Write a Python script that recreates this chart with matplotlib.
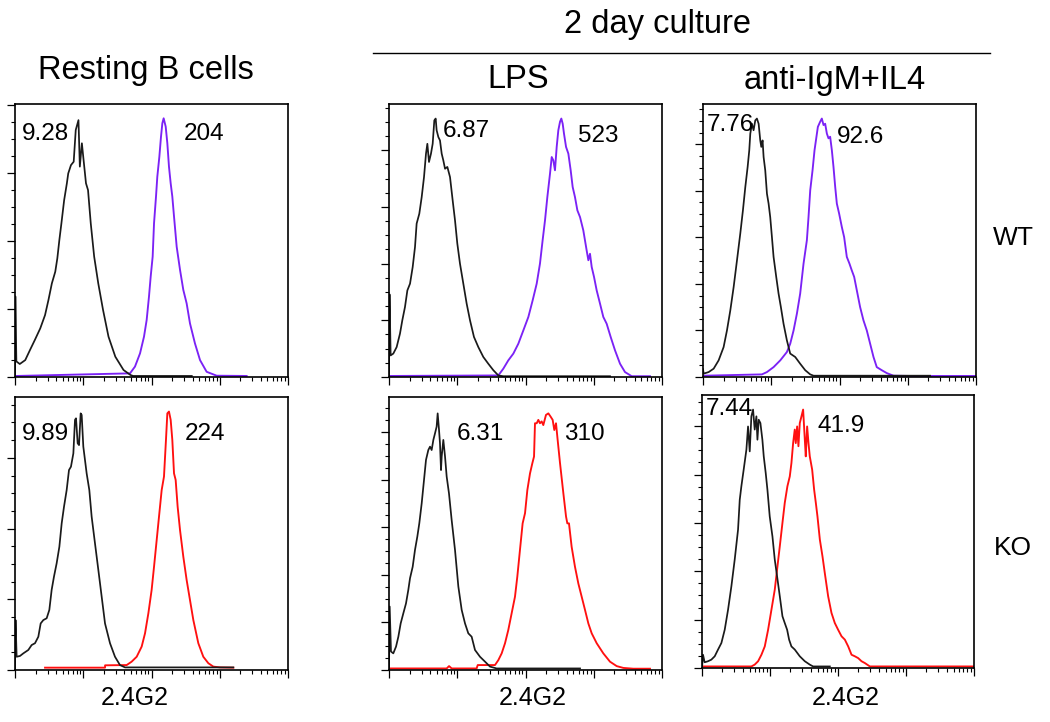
import matplotlib
matplotlib.use('Agg')
import matplotlib.pyplot as plt
from matplotlib.ticker import MultipleLocator, LogLocator, NullFormatter
import numpy as np

plt.rcParams['font.family'] = ['Liberation Sans', 'DejaVu Sans']

# x = position in decades (log10 of 2.4G2 intensity), y = % of max
# --- Resting B cells, WT ---
rest_wt_ctrl_x = [0.0, 0.005, 0.02, 0.07, 0.15, 0.22, 0.29, 0.37, 0.44, 0.49, 0.54, 0.59, 0.62, 0.65, 0.68,
                  0.72, 0.76, 0.78, 0.82, 0.86, 0.89, 0.93, 0.95, 0.98, 1.00, 1.04, 1.07, 1.11, 1.16, 1.22,
                  1.29, 1.37, 1.47, 1.59, 1.69, 1.73, 2.59]
rest_wt_ctrl_y = [0, 31, 6, 5, 6.5, 10.4, 14.2, 18.7, 23.8, 29.6, 36, 40.5, 45.6, 52.7, 59.1,
                  68, 74.5, 78.3, 81.5, 82.8, 95, 98.8, 80.9, 89.9, 84.7, 74.5, 71.9, 59.1, 46.3, 36,
                  25.8, 15.5, 7.8, 2.7, 0.8, 0.4, 0.4]
rest_wt_stain_x = [0.02, 1.685, 1.758, 1.832, 1.890, 1.929, 1.963, 1.988, 2.017, 2.037, 2.066, 2.085, 2.115,
                   2.139, 2.159, 2.178, 2.208, 2.232, 2.256, 2.281, 2.305, 2.330, 2.369, 2.418, 2.466, 2.515,
                   2.564, 2.637, 2.711, 2.808, 2.955, 3.394]
rest_wt_stain_y = [0.4, 1.4, 4, 9.1, 15.5, 21.9, 30.9, 38.6, 46.3, 59.1, 69.4, 77, 84.7,
                   92.4, 97.6, 99.5, 96.3, 89.9, 80.9, 74.5, 69.4, 61.7, 50.1, 41.2, 33.5, 28.3,
                   20.6, 12.9, 6.5, 2, 0.5, 0.4]

# --- LPS, WT ---
lps_wt_ctrl_x = [0.0, 0.008, 0.024, 0.063, 0.112, 0.161, 0.195, 0.234, 0.269, 0.308, 0.347, 0.381, 0.405,
                 0.444, 0.479, 0.513, 0.542, 0.562, 0.586, 0.615, 0.640, 0.664, 0.684, 0.698, 0.723, 0.747,
                 0.772, 0.796, 0.821, 0.855, 0.894, 0.933, 0.967, 1.001, 1.040, 1.089, 1.138, 1.187, 1.245,
                 1.309, 1.382, 1.455, 1.529, 1.602, 1.675, 3.238]
lps_wt_ctrl_y = [0, 31.8, 8.3, 9.0, 11.5, 16.7, 21.8, 26.9, 33.3, 35.9, 42.3, 50, 59,
                 62.8, 69.2, 76.9, 85.9, 89.7, 82.7, 85.9, 89.7, 98.7, 99.4, 94.9, 92.3, 91,
                 85.9, 83.3, 80.1, 80.8, 76.9, 67.9, 60.3, 51.3, 43.6, 35.9, 28.2, 21.8, 15.4,
                 11.5, 7.7, 5.1, 2.6, 0.6, 0.3, 0.3]
lps_wt_stain_x = [0.015, 1.602, 1.675, 1.748, 1.822, 1.895, 1.968, 2.042, 2.105, 2.164, 2.212, 2.251, 2.286,
                  2.320, 2.359, 2.384, 2.408, 2.432, 2.457, 2.481, 2.506, 2.525, 2.545, 2.564, 2.594, 2.628,
                  2.662, 2.691, 2.725, 2.760, 2.799, 2.847, 2.896, 2.921, 2.945, 2.970, 3.004, 3.043, 3.092,
                  3.140, 3.189, 3.248, 3.311, 3.385, 3.458, 3.556, 3.824]
lps_wt_stain_y = [0.4, 0.6, 3.2, 6.4, 9.0, 12.8, 17.9, 23.1, 29.5, 35.9, 43.6, 52.6, 60.3,
                  69.2, 78.2, 84.6, 83.3, 79.5, 88.5, 94.9, 98.2, 99.4, 97.4, 93.6, 88.5, 85.9,
                  79.5, 73.1, 69.2, 64.1, 61.5, 56.4, 48.7, 44.9, 47.4, 42.3, 38.5, 33.3, 28.2,
                  23.1, 20.5, 15.4, 10.3, 5.1, 1.9, 0.3, 0.3]

# --- anti-IgM+IL4, WT ---
igm_wt_ctrl_x = [0.0, 0.010, 0.083, 0.156, 0.229, 0.302, 0.351, 0.400, 0.449, 0.498, 0.546, 0.585, 0.620,
                 0.654, 0.678, 0.693, 0.717, 0.741, 0.766, 0.790, 0.815, 0.839, 0.854, 0.873, 0.888, 0.912,
                 0.937, 0.961, 0.985, 1.010, 1.034, 1.073, 1.107, 1.141, 1.180, 1.229, 1.278, 1.351, 1.424,
                 1.498, 1.571, 1.620, 3.327]
igm_wt_ctrl_y = [3, 1.3, 1.9, 3.2, 6.4, 11.5, 17.9, 25.6, 34.6, 44.9, 55.1, 64.1, 73.1,
                 80.8, 87.2, 93.6, 97.4, 94.9, 98.7, 99.4, 97.4, 91.0, 88.5, 91.0, 84.6, 79.5,
                 70.5, 66.7, 61.5, 53.8, 46.2, 38.5, 32.1, 26.9, 20.5, 14.1, 9.0, 7.7, 5.1,
                 2.6, 1.0, 0.5, 0.5]
igm_wt_stain_x = [0.010, 0.863, 0.937, 1.034, 1.132, 1.229, 1.278, 1.327, 1.376, 1.424, 1.473, 1.522, 1.546,
                  1.571, 1.605, 1.634, 1.659, 1.683, 1.717, 1.741, 1.766, 1.790, 1.815, 1.839, 1.863, 1.888,
                  1.912, 1.937, 1.961, 1.995, 2.034, 2.068, 2.107, 2.146, 2.180, 2.215, 2.254, 2.302, 2.351,
                  2.400, 2.449, 2.498, 2.546, 2.620, 2.693, 2.790, 3.034, 4.0]
igm_wt_stain_y = [0.5, 1.0, 1.9, 3.8, 6.4, 9.6, 12.8, 17.9, 24.4, 32.1, 43.6, 52.6, 61.5,
                  71.8, 79.5, 87.2, 91.8, 96.2, 98.2, 99.4, 96.9, 97.4, 93.6, 91.8, 92.4, 87.2,
                  80.8, 73.1, 66.7, 62.8, 57.7, 53.8, 46.2, 43.6, 41.0, 38.5, 33.3, 26.9, 21.8,
                  17.9, 12.8, 7.7, 3.8, 2.6, 1.5, 0.5, 0.4, 0.4]

# --- Resting B cells, KO ---
rest_ko_ctrl_x = [0.0, 0.008, 0.024, 0.073, 0.122, 0.195, 0.244, 0.293, 0.342, 0.376, 0.415, 0.464, 0.503,
                  0.537, 0.571, 0.610, 0.650, 0.684, 0.718, 0.757, 0.791, 0.820, 0.855, 0.879, 0.894, 0.918,
                  0.938, 0.962, 0.977, 1.001, 1.050, 1.089, 1.123, 1.172, 1.221, 1.270, 1.319, 1.392, 1.465,
                  1.538, 1.612, 3.199]
rest_ko_ctrl_y = [0, 19.2, 5.1, 5.4, 6.4, 7.7, 9.6, 10.3, 12.8, 17.9, 19.2, 19.9, 23.1,
                  30.8, 35.9, 41.0, 47.4, 56.4, 62.8, 69.2, 76.9, 78.2, 83.3, 96.2, 96.8, 87.2,
                  86.5, 98.7, 98.1, 85.9, 75.6, 69.2, 59.0, 48.7, 38.5, 28.2, 17.9, 10.3, 5.1,
                  1.9, 1.0, 1.0]
rest_ko_stain_x = [0.440, 1.319, 1.320, 1.636, 1.709, 1.783, 1.856, 1.905, 1.954, 2.002, 2.037, 2.076, 2.115,
                   2.149, 2.183, 2.212, 2.232, 2.256, 2.281, 2.305, 2.330, 2.354, 2.383, 2.418, 2.466, 2.515,
                   2.564, 2.613, 2.686, 2.759, 2.833, 2.906, 3.004, 3.199]
rest_ko_stain_y = [0.9, 0.9, 1.8, 1.9, 3.2, 5.1, 9.0, 14.1, 21.8, 30.8, 39.7, 50.0, 60.3,
                   69.2, 74.4, 88.5, 98.7, 99.4, 96.2, 88.5, 75.6, 73.1, 62.8, 53.8, 43.6, 34.6,
                   26.9, 19.2, 10.3, 5.1, 2.6, 1.3, 1.0, 0.9]

# --- LPS, KO ---
lps_ko_ctrl_x = [0.0, 0.010, 0.029, 0.063, 0.103, 0.137, 0.171, 0.210, 0.249, 0.283, 0.308, 0.347, 0.381,
                 0.415, 0.444, 0.479, 0.513, 0.542, 0.576, 0.601, 0.625, 0.650, 0.674, 0.698, 0.713, 0.733,
                 0.747, 0.762, 0.772, 0.796, 0.821, 0.845, 0.879, 0.918, 0.967, 1.016, 1.065, 1.114, 1.162,
                 1.211, 1.260, 1.333, 1.407, 1.480, 1.577, 2.799]
lps_ko_ctrl_y = [0, 24.4, 7.1, 6.4, 9.0, 12.8, 17.9, 21.8, 25.6, 30.8, 35.3, 39.7, 46.2,
                 51.3, 56.4, 64.1, 73.1, 80.8, 84.6, 85.9, 84.6, 88.5, 91.0, 93.6, 98.7, 92.3,
                 87.2, 76.9, 82.1, 88.5, 82.1, 74.4, 67.9, 57.7, 46.2, 32.1, 23.1, 17.9, 14.1,
                 12.8, 7.7, 5.1, 3.2, 1.3, 0.6, 0.6]
lps_ko_stain_x = [0.015, 0.845, 0.880, 0.918, 1.284, 1.300, 1.529, 1.553, 1.602, 1.651, 1.700, 1.748, 1.797,
                  1.846, 1.880, 1.919, 1.958, 1.993, 2.027, 2.066, 2.100, 2.125, 2.139, 2.164, 2.188, 2.212,
                  2.237, 2.261, 2.300, 2.335, 2.369, 2.398, 2.422, 2.447, 2.471, 2.506, 2.555, 2.594, 2.613,
                  2.637, 2.676, 2.725, 2.774, 2.823, 2.872, 2.921, 2.970, 3.043, 3.140, 3.238, 3.336, 3.433,
                  3.580, 3.824]
lps_ko_stain_y = [0.6, 0.6, 1.5, 0.6, 0.6, 1.9, 1.9, 1.9, 3.8, 6.4, 10.3, 15.4, 21.8,
                  28.2, 35.9, 46.2, 56.4, 60.3, 69.2, 75.6, 79.5, 82.1, 94.9, 94.9, 96.2, 94.9,
                  95.6, 94.2, 98.1, 98.7, 97.4, 96.2, 92.3, 94.9, 88.5, 79.5, 67.9, 59.0, 56.4,
                  56.4, 47.4, 39.7, 33.3, 28.2, 23.1, 17.9, 14.1, 10.3, 6.4, 3.2, 1.5, 0.8,
                  0.5, 0.5]

# --- anti-IgM+IL4, KO ---
igm_ko_ctrl_x = [0.0, 0.015, 0.039, 0.088, 0.137, 0.187, 0.236, 0.285, 0.334, 0.383, 0.432, 0.481, 0.530,
                 0.555, 0.579, 0.613, 0.653, 0.677, 0.702, 0.726, 0.751, 0.775, 0.800, 0.815, 0.834, 0.859,
                 0.888, 0.908, 0.937, 0.962, 0.996, 1.036, 1.070, 1.104, 1.144, 1.183, 1.217, 1.252, 1.281,
                 1.315, 1.364, 1.438, 1.512, 1.585, 1.634, 1.880]
igm_ko_ctrl_y = [0, 5.1, 2.2, 2.6, 3.2, 4.5, 7.1, 9.6, 14.7, 22.4, 31.4, 41.7, 53.2,
                 64.7, 69.9, 76.3, 84.0, 92.9, 83.3, 96.8, 99.4, 91.7, 96.8, 87.8, 95.5, 94.2,
                 87.8, 81.4, 75.0, 68.6, 58.3, 50.6, 41.7, 35.3, 27.6, 19.9, 17.3, 14.7, 10.9,
                 8.3, 7.1, 4.5, 2.6, 1.3, 0.6, 0.6]
igm_ko_stain_x = [0.015, 0.726, 0.775, 0.825, 0.874, 0.923, 0.972, 1.021, 1.070, 1.104, 1.144, 1.183, 1.217,
                  1.256, 1.291, 1.315, 1.340, 1.364, 1.379, 1.399, 1.418, 1.438, 1.463, 1.487, 1.512, 1.526,
                  1.546, 1.566, 1.585, 1.620, 1.649, 1.674, 1.698, 1.733, 1.772, 1.806, 1.855, 1.904, 1.953,
                  2.002, 2.052, 2.101, 2.150, 2.199, 2.248, 2.297, 2.346, 2.395, 2.469, 4.0]
igm_ko_stain_y = [0.6, 0.6, 1.3, 2.6, 5.1, 8.3, 14.7, 22.4, 30.1, 37.8, 46.8, 55.8, 63.5,
                  69.9, 73.7, 78.8, 86.5, 91.7, 86.5, 92.9, 85.3, 94.2, 96.8, 99.4, 87.8, 81.4,
                  92.9, 86.5, 81.4, 76.3, 68.6, 63.5, 58.3, 49.4, 42.9, 36.5, 27.6, 21.2, 17.3,
                  14.7, 12.2, 10.9, 8.3, 5.1, 4.5, 3.8, 2.6, 1.9, 0.6, 0.6]

# geometric mean values printed in each panel
labels_ctrl = ['9.28', '6.87', '7.76', '9.89', '6.31', '7.44']
labels_stain = ['204', '523', '92.6', '224', '310', '41.9']

W, H = 1050, 722
PURPLE = '#7B22F5'
RED = '#FF1010'


def px(x, y):
    return x / W, 1 - y / H


def dibujar_panel(rect, ctrl, stain, color, ymaj):
    x0, y0, x1, y1 = rect
    ax = fig.add_axes([x0 / W, 1 - y1 / H, (x1 - x0) / W, (y1 - y0) / H])
    ax.plot(10 ** np.array(stain[0]), stain[1], color=color, lw=1.35)
    ax.plot(10 ** np.array(ctrl[0]), ctrl[1], color='#1a1a1a', lw=1.25)
    ax.set_xscale('log')
    ax.set_xlim(1, 1e4)
    ax.set_ylim(0, 105)
    ax.xaxis.set_major_locator(LogLocator(base=10, numticks=10))
    ax.xaxis.set_minor_locator(LogLocator(base=10, subs=np.arange(2, 10), numticks=20))
    ax.xaxis.set_major_formatter(NullFormatter())
    ax.xaxis.set_minor_formatter(NullFormatter())
    ax.yaxis.set_major_locator(MultipleLocator(ymaj))
    ax.yaxis.set_minor_locator(MultipleLocator(ymaj / 4))
    ax.set_yticklabels([])
    ax.tick_params(which='major', direction='out', length=6, width=0.9)
    ax.tick_params(which='minor', direction='out', length=3.2, width=0.8)
    for s in ax.spines.values():
        s.set_linewidth(1.2)
    return ax


fig = plt.figure(figsize=(W / 100, H / 100), dpi=100)

paneles = [
    ((15, 104, 288, 377), (rest_wt_ctrl_x, rest_wt_ctrl_y), (rest_wt_stain_x, rest_wt_stain_y), PURPLE, 26.2),
    ((389, 104, 662, 377), (lps_wt_ctrl_x, lps_wt_ctrl_y), (lps_wt_stain_x, lps_wt_stain_y), PURPLE, 21.8),
    ((703, 104, 976, 377), (igm_wt_ctrl_x, igm_wt_ctrl_y), (igm_wt_stain_x, igm_wt_stain_y), PURPLE, 17.9),
    ((15, 397, 288, 670), (rest_ko_ctrl_x, rest_ko_ctrl_y), (rest_ko_stain_x, rest_ko_stain_y), RED, 27.2),
    ((389, 397, 662, 670), (lps_ko_ctrl_x, lps_ko_ctrl_y), (lps_ko_stain_x, lps_ko_stain_y), RED, 18.3),
    ((702, 395, 974, 668), (igm_ko_ctrl_x, igm_ko_ctrl_y), (igm_ko_stain_x, igm_ko_stain_y), RED, 18.6),
]
for rect, ctrl, stain, color, ymaj in paneles:
    dibujar_panel(rect, ctrl, stain, color, ymaj)

# numbers inside panels (pixel positions of the text centres)
pos_ctrl = [(45, 134), (466, 131), (730, 125), (45, 434), (480, 434), (729, 409)]
pos_stain = [(204, 134), (598, 136), (861, 137), (205, 434), (584, 434), (841, 426)]
for lab, (x, y) in zip(labels_ctrl, pos_ctrl):
    fig.text(*px(x, y), lab, fontsize=17.5, ha='center', va='center')
for lab, (x, y) in zip(labels_stain, pos_stain):
    fig.text(*px(x, y), lab, fontsize=17.5, ha='center', va='center')

# headers
fig.text(*px(146, 70), 'Resting B cells', fontsize=23.5, ha='center', va='center')
fig.text(*px(658, 24), '2 day culture', fontsize=23.5, ha='center', va='center')
fig.add_artist(plt.Line2D([373 / W, 990 / W], [1 - 53 / H, 1 - 53 / H], color='black', lw=1.0))
fig.text(*px(518, 80), 'LPS', fontsize=23.5, ha='center', va='center')
fig.text(*px(835, 80), 'anti-IgM+IL4', fontsize=23.5, ha='center', va='center')
fig.text(*px(1013, 238), 'WT', fontsize=19, ha='center', va='center')
fig.text(*px(1013, 548), 'KO', fontsize=19, ha='center', va='center')
for cx in [135, 533, 846]:
    fig.text(*px(cx, 698), '2.4G2', fontsize=18, ha='center', va='center')

fig.savefig('out.png', dpi=100)
